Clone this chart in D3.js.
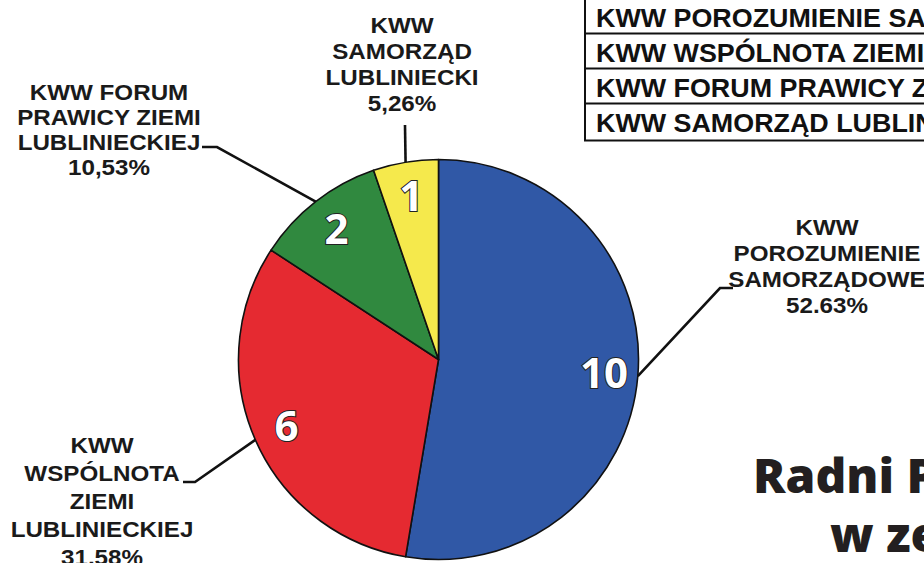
<!DOCTYPE html>
<html>
<head>
<meta charset="utf-8">
<script src="https://cdn.jsdelivr.net/npm/d3@7"></script>
<style>
    body { margin: 0; background: #fff; overflow: hidden; }
    svg { display: block; }
</style>
</head>
<body>
<svg id="chart" width="924" height="563"></svg>
<script>
// seats per committee, clockwise from 12 o'clock
const committees = ['KWW POROZUMIENIE SAMORZĄDOWE', 'KWW WSPÓLNOTA ZIEMI LUBLINIECKIEJ',
                    'KWW FORUM PRAWICY ZIEMI LUBLINIECKIEJ', 'KWW SAMORZĄD LUBLINIECKI'];
const seats = [10, 6, 2, 1];
const percentLabels = ['52.63%', '31,58%', '10,53%', '5,26%'];
const labelLines = [
    ['KWW', 'POROZUMIENIE', 'SAMORZĄDOWE'],
    ['KWW', 'WSPÓLNOTA', 'ZIEMI', 'LUBLINIECKIEJ'],
    ['KWW FORUM', 'PRAWICY ZIEMI', 'LUBLINIECKIEJ'],
    ['KWW', 'SAMORZĄD', 'LUBLINIECKI']
];
const colors = ['#3058a6', '#e52a31', '#30893f', '#f5e94c'];
const titleLines = ['Radni Powiatu', 'w zestawieniu'];

// label placement (leader elbow, end, text center and baselines)
const layout = [
    {elbow: [720, 288], end: [733, 288], x: 827, y: 235, dy: 26},
    {elbow: [195, 482], end: [183, 482], x: 102, y: 453, dy: 28},
    {elbow: [217, 147], end: [202, 147], x: 109, y: 100, dy: 25},
    {elbow: [405, 125], end: [405, 125], x: 402, y: 33, dy: 26}
];

const cx = 438.5, cy = 359.5, radius = 200;
const svg = d3.select('#chart');

// table at the top right
const rowH = 35;
const table = svg.append('g').attr('transform', 'translate(585,-2)');
table.selectAll('line.row')
    .data(d3.range(1, committees.length))
    .join('line')
    .attr('x1', 0).attr('x2', 400)
    .attr('y1', d => d * rowH + 0.5).attr('y2', d => d * rowH + 0.5)
    .attr('stroke', '#111').attr('stroke-width', 2);
table.append('rect')
    .attr('x', 0).attr('y', 0)
    .attr('width', 400).attr('height', committees.length * rowH + 2.5)
    .attr('fill', 'none').attr('stroke', '#111').attr('stroke-width', 2);
table.selectAll('text')
    .data(committees)
    .join('text')
    .attr('transform', (d, i) => `translate(11,${i * rowH + 29}) scale(1.075,1)`)
    .attr('font-family', 'Liberation Sans, Arial, sans-serif')
    .attr('font-weight', 'bold')
    .attr('font-size', 25)
    .attr('fill', '#111')
    .text(d => d);

// pie
const pie = d3.pie().sort(null).value(d => d);
const arcs = pie(seats);
const arc = d3.arc().innerRadius(0).outerRadius(radius);
const edge = d3.arc().innerRadius(radius).outerRadius(radius);
const numPos = d3.arc().innerRadius(166).outerRadius(166);

const g = svg.append('g').attr('transform', `translate(${cx},${cy})`);
g.selectAll('path')
    .data(arcs)
    .join('path')
    .attr('d', arc)
    .attr('fill', (d, i) => colors[i])
    .attr('stroke', '#111')
    .attr('stroke-width', 1.6)
    .attr('stroke-linejoin', 'round');

// leader lines
svg.append('g').selectAll('polyline')
    .data(arcs)
    .join('polyline')
    .attr('points', (d, i) => {
        const p = edge.centroid(d);
        return [[cx + p[0], cy + p[1]], layout[i].elbow, layout[i].end].join(' ');
    })
    .attr('fill', 'none')
    .attr('stroke', '#111')
    .attr('stroke-width', 2.6);

// seat numbers
g.selectAll('text.num')
    .data(arcs)
    .join('text')
    .attr('class', 'num')
    .attr('transform', d => `translate(${numPos.centroid(d)})`)
    .attr('text-anchor', 'middle')
    .attr('dy', '0.36em')
    .attr('font-family', 'Open Sans, sans-serif')
    .attr('font-weight', 700)
    .attr('font-size', 42)
    .attr('fill', '#fff')
    .attr('stroke', '#222')
    .attr('stroke-width', 2)
    .attr('paint-order', 'stroke')
    .text(d => d.data);

// committee labels
labelLines.forEach((lines, i) => {
    const L = layout[i];
    const rows = lines.concat([percentLabels[i]]);
    svg.append('g').selectAll('text')
        .data(rows)
        .join('text')
        .attr('transform', (d, j) => `translate(${L.x},${L.y + j * L.dy}) scale(1.1,1)`)
        .attr('text-anchor', 'middle')
        .attr('font-family', 'Liberation Sans, Arial, sans-serif')
        .attr('font-weight', 'bold')
        .attr('font-size', 22)
        .attr('fill', '#1a1a1a')
        .text(d => d);
});

// title, clipped by the page edge
svg.append('g').selectAll('text')
    .data(titleLines)
    .join('text')
    .attr('x', (d, i) => i === 0 ? 753 : 830)
    .attr('y', (d, i) => i === 0 ? 493 : 552)
    .attr('font-family', 'Open Sans, sans-serif')
    .attr('font-weight', 800)
    .attr('font-size', 48)
    .attr('fill', '#231f20')
    .text(d => d);
</script>
</body>
</html>
